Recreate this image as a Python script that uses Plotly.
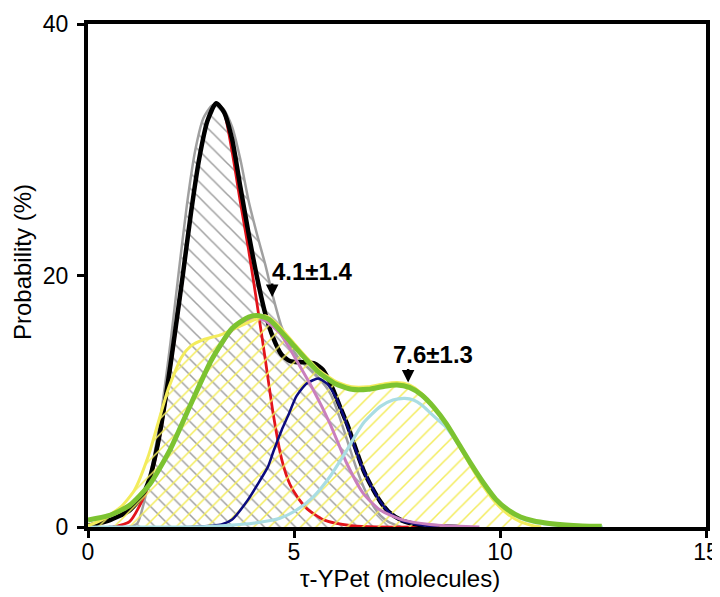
import plotly.graph_objects as go

# ---- data ----
gray_x = [1.0, 1.2, 1.4, 1.6, 1.8, 2.0, 2.2, 2.4, 2.6, 2.8, 3.0, 3.15, 3.3, 3.5, 3.7, 3.9, 4.1, 4.3, 4.5, 4.7, 4.9, 5.1, 5.3, 5.5, 5.7, 5.9, 6.1, 6.3, 6.5, 6.7, 6.9, 7.1, 7.3, 7.6]
gray_y = [0.0, 0.3, 2.5, 5.6, 9.6, 14.6, 20.2, 25.6, 29.9, 32.5, 33.5, 33.6, 33.2, 31.8, 29.2, 25.9, 23.3, 20.9, 18.2, 15.9, 14.5, 13.5, 12.8, 12.2, 11.5, 10.5, 8.8, 6.8, 4.8, 3.1, 1.8, 0.9, 0.4, 0.0]

black_x = [0.0, 0.5, 1.0, 1.3, 1.5, 1.7, 1.9, 2.1, 2.3, 2.5, 2.7, 2.9, 3.11, 3.3, 3.5, 3.7, 3.9, 4.1, 4.3, 4.5, 4.7, 4.9, 5.1, 5.3, 5.5, 5.7, 5.9, 6.1, 6.3, 6.5, 6.7, 6.9, 7.1, 7.3, 7.6, 8.0, 8.5, 9.0]
black_y = [0.1, 0.5, 1.3, 2.4, 3.9, 6.7, 10.6, 15.2, 20.0, 25.0, 29.3, 32.3, 33.7, 33.0, 30.8, 27.0, 23.3, 19.9, 17.0, 15.0, 13.7, 13.2, 13.1, 13.1, 13.0, 12.5, 11.3, 9.7, 8.1, 6.2, 4.4, 3.1, 2.0, 1.2, 0.55, 0.2, 0.05, 0.0]

red_x = [0.6, 1.0, 1.3, 1.5, 1.7, 1.9, 2.1, 2.3, 2.5, 2.7, 2.9, 3.11, 3.3, 3.5, 3.7, 3.9, 4.1, 4.3, 4.5, 4.7, 4.9, 5.1, 5.3, 5.5, 5.7, 6.0, 6.4, 7.0, 8.3]
red_y = [0.0, 0.4, 2.0, 3.7, 6.5, 10.4, 15.0, 19.9, 25.0, 29.3, 32.3, 33.7, 33.0, 29.8, 25.8, 22.0, 17.8, 13.4, 8.9, 5.4, 3.4, 2.3, 1.5, 1.0, 0.6, 0.3, 0.1, 0.0, 0.0]

blue_x = [0.5, 2.5, 3.0, 3.24, 3.5, 3.88, 4.1, 4.37, 4.5, 4.7, 4.85, 5.06, 5.3, 5.59, 5.8, 6.0, 6.3, 6.5, 6.7, 6.9, 7.1, 7.3, 7.6, 8.0, 8.5]
blue_y = [0.0, 0.0, 0.1, 0.2, 0.6, 2.15, 3.3, 4.8, 6.0, 7.7, 8.8, 10.4, 11.4, 11.8, 11.4, 10.4, 8.0, 6.1, 4.4, 3.1, 2.0, 1.2, 0.5, 0.2, 0.0]

yellow_x = [0.0, 0.32, 0.8, 1.13, 1.46, 1.7, 1.94, 2.27, 2.5, 2.8, 3.24, 3.64, 4.05, 4.3, 4.6, 5.0, 5.3, 5.6, 6.0, 6.4, 6.8, 7.2, 7.5, 7.8, 8.1, 8.4, 8.7, 9.0, 9.3, 9.6, 9.9, 10.2, 10.5, 10.8, 11.0]
yellow_y = [0.1, 0.55, 1.6, 2.94, 5.6, 8.25, 10.9, 13.5, 14.4, 14.9, 15.3, 15.9, 16.5, 16.8, 16.1, 14.6, 13.5, 12.5, 11.6, 11.15, 11.15, 11.4, 11.5, 11.3, 10.6, 9.5, 8.1, 6.5, 4.8, 3.2, 1.9, 1.0, 0.4, 0.1, 0.0]

pink_x = [0.0, 0.5, 1.0, 1.5, 2.0, 2.5, 3.0, 3.5, 3.9, 4.1, 4.3, 4.66, 5.15, 5.47, 5.87, 6.28, 6.68, 7.09, 7.65, 8.3, 9.0, 9.5]
pink_y = [0.55, 0.9, 1.7, 3.4, 6.2, 9.8, 13.25, 15.65, 16.45, 16.6, 16.4, 15.4, 12.75, 10.9, 8.25, 5.07, 2.68, 1.35, 0.55, 0.2, 0.05, 0.0]

lblue_x = [0.0, 2.5, 3.0, 3.5, 4.0, 4.66, 5.06, 5.47, 5.87, 6.28, 6.68, 7.09, 7.4, 7.69, 7.9, 8.1, 8.3, 8.5, 8.7, 9.0, 9.3, 9.6, 9.9, 10.2, 10.5, 10.8, 11.2, 11.6, 12.0, 12.5]
lblue_y = [0.0, 0.0, 0.05, 0.15, 0.3, 0.7, 1.35, 2.4, 4.0, 6.1, 8.25, 9.57, 10.1, 10.23, 10.1, 9.7, 9.1, 8.5, 7.9, 6.5, 4.9, 3.4, 2.1, 1.25, 0.7, 0.4, 0.2, 0.1, 0.05, 0.0]

green_x = [0.0, 0.5, 1.0, 1.5, 2.0, 2.5, 3.0, 3.5, 3.9, 4.15, 4.4, 4.7, 5.0, 5.3, 5.6, 6.0, 6.4, 6.8, 7.2, 7.5, 7.8, 8.1, 8.4, 8.7, 9.0, 9.3, 9.6, 9.9, 10.2, 10.5, 10.8, 11.2, 11.6, 12.0, 12.47]
green_y = [0.55, 0.9, 1.7, 3.4, 6.2, 9.8, 13.3, 15.8, 16.7, 16.8, 16.5, 15.5, 14.4, 13.3, 12.3, 11.4, 10.95, 10.95, 11.2, 11.3, 11.1, 10.5, 9.5, 8.2, 6.6, 5.0, 3.5, 2.2, 1.35, 0.8, 0.5, 0.28, 0.15, 0.08, 0.05]

x_ticks = [0, 5, 10, 15]
y_ticks = [0, 20, 40]
x_title = "τ-YPet (molecules)"
y_title = "Probability (%)"

labels = ["4.1±1.4", "7.6±1.3"]
label_x = [5.46, 8.37]
label_y = [20.3, 13.7]
arrow_x = [4.47, 7.77]
arrow_y = [18.3, 11.5]

GRAY = "#a0a0a0"
YELLOW = "#f3ec5c"
FAM = "Liberation Sans, Arial, sans-serif"

fig = go.Figure()

def fill_trace(x, y, shape, color):
    return go.Scatter(
        x=x, y=y, mode="lines", line=dict(width=0, shape="spline", smoothing=0.6),
        fill="tozeroy", fillcolor="rgba(0,0,0,0)",
        fillpattern=dict(shape=shape, size=11, solidity=0.14, fgcolor=color,
                         bgcolor="rgba(0,0,0,0)", fillmode="replace"),
        hoverinfo="skip", showlegend=False)

def line_trace(x, y, color, width):
    return go.Scatter(
        x=x, y=y, mode="lines",
        line=dict(color=color, width=width, shape="spline", smoothing=0.6),
        hoverinfo="skip", showlegend=False)

fig.add_trace(fill_trace(gray_x, gray_y, "\\", GRAY))
fig.add_trace(line_trace(gray_x, gray_y, GRAY, 2.5))
fig.add_trace(line_trace(red_x, red_y, "#e3141b", 2.8))
fig.add_trace(line_trace(black_x, black_y, "#000000", 4.5))
fig.add_trace(fill_trace(yellow_x, yellow_y, "/", YELLOW))
fig.add_trace(line_trace(blue_x, blue_y, "#0b0b7e", 2.5))
fig.add_trace(line_trace(pink_x, pink_y, "#c97fbd", 3))
fig.add_trace(line_trace(lblue_x, lblue_y, "#a9dde3", 3.2))
fig.add_trace(line_trace(yellow_x, yellow_y, YELLOW, 3))
fig.add_trace(line_trace(green_x, green_y, "#7cc331", 5))

for t, tx, ty, axx, ayy in zip(labels, label_x, label_y, arrow_x, arrow_y):
    fig.add_annotation(x=tx, y=ty, text="<b>" + t + "</b>", showarrow=False,
                       font=dict(family=FAM, size=24, color="black"))
    fig.add_annotation(x=axx, y=ayy, text="", showarrow=True, ax=0, ay=-15,
                       arrowhead=2, arrowsize=1, arrowwidth=2.5, arrowcolor="black")

axis_font = dict(family=FAM, size=23, color="black")
title_font = dict(family=FAM, size=24, color="black")

fig.add_annotation(xref="paper", yref="paper", x=0.505, y=-0.102, yanchor="middle",
                   text=x_title, showarrow=False, font=title_font)
fig.add_annotation(xref="paper", yref="paper", x=-0.105, y=0.527, xanchor="center",
                   yanchor="middle", textangle=-90, text=y_title, showarrow=False,
                   font=title_font)

# the page body adds an 8px offset, so the figure is 8px smaller and shifted
fig.update_layout(
    width=712, height=589,
    margin=dict(l=80, r=14, t=16, b=70),
    paper_bgcolor="white", plot_bgcolor="white",
    font=axis_font,
    xaxis=dict(range=[0, 15], tickvals=x_ticks, ticks="outside", ticklen=7, tickwidth=3,
               tickcolor="black", showline=True, linewidth=4, linecolor="black", mirror=True,
               showgrid=False, zeroline=False, tickfont=axis_font, automargin=False,
               ticklabelstandoff=-6),
    yaxis=dict(range=[0, 40], tickvals=y_ticks, ticks="outside", ticklen=7, tickwidth=3,
               tickcolor="black", showline=True, linewidth=4, linecolor="black", mirror=True,
               showgrid=False, zeroline=False, tickfont=axis_font, automargin=False,
               ticklabelstandoff=4),
)

fig.write_html("out.html")
